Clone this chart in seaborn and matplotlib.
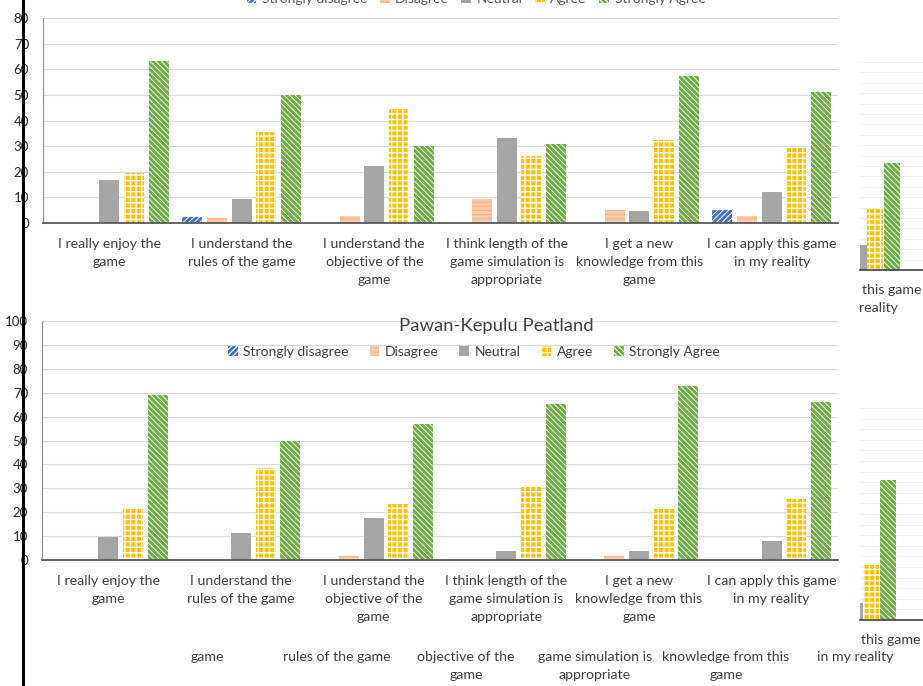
import pandas as pd
import matplotlib
matplotlib.use("Agg")
import matplotlib.pyplot as plt
import seaborn as sns
from matplotlib.lines import Line2D

statements = [
    "I really enjoy the\ngame",
    "I understand the\nrules of the game",
    "I understand the\nobjective of the\ngame",
    "I think length of the\ngame simulation is\nappropriate",
    "I get a new\nknowledge from this\ngame",
    "I can apply this game\nin my reality",
]
responses = ["Strongly disagree", "Disagree", "Neutral", "Agree", "Strongly Agree"]

# upper chart (its title is cut off in the screenshot)
top_sd = [0, 2.3, 0, 0, 0, 4.9]
top_d = [0, 1.8, 2.6, 9.4, 4.9, 2.6]
top_n = [16.9, 9.5, 22.4, 33.3, 4.7, 12.1]
top_a = [19.5, 35.5, 44.9, 26.1, 32.3, 29.3]
top_sa = [63.2, 49.8, 29.9, 30.7, 57.5, 51.0]

# Pawan-Kepulu Peatland
pk_sd = [0, 0, 0, 0, 0, 0]
pk_d = [0, 0, 1.8, 0, 1.8, 0]
pk_n = [9.6, 11.3, 17.4, 3.8, 3.8, 8.1]
pk_a = [21.2, 38.4, 23.6, 30.7, 21.2, 25.6]
pk_sa = [69.0, 49.9, 56.9, 65.1, 72.8, 66.0]

# cropped neighbour charts on the right edge
frag_cats = ["Neutral", "Agree", "Strongly Agree"]
frag_top = [9.6, 23.5, 41.2]
frag_bot = [6.4, 20.8, 52.8]

# stray label lines from a chart below
stray_labels = ["game", "rules of the game", "objective of the\ngame",
                "game simulation is\nappropriate", "knowledge from this\ngame",
                "in my reality"]

styles = {
    "Strongly disagree": dict(facecolor="#4472C4", edgecolor="white", hatch="//////"),
    "Disagree": dict(facecolor="#F8CBAD", edgecolor="#F4B183", hatch="----"),
    "Neutral": dict(facecolor="#A5A5A5", edgecolor="#A5A5A5", hatch=None),
    "Agree": dict(facecolor="#FFC000", edgecolor="white", hatch="+++"),
    "Strongly Agree": dict(facecolor="#70AD47", edgecolor="white", hatch="\\\\\\\\\\\\"),
}
hatch_lw = {"Strongly disagree": 0.7, "Disagree": 0.8, "Neutral": 0.8,
            "Agree": 1.0, "Strongly Agree": 0.6}

sns.set_theme(style="white")
plt.rcParams["font.family"] = ["Lato", "DejaVu Sans"]
plt.rcParams["hatch.linewidth"] = 0.8

W, H = 923, 686
fig = plt.figure(figsize=(W / 100, H / 100), dpi=100)


def px(l, t, r, b):
    return [l / W, 1 - b / H, (r - l) / W, (b - t) / H]


def frame(sd, d, n, a, sa):
    rows = []
    for resp, vals in zip(responses, [sd, d, n, a, sa]):
        for s, v in zip(statements, vals):
            rows.append({"statement": s, "response": resp, "value": v})
    return pd.DataFrame(rows)


def paint(bar, resp):
    bar.set(**styles[resp], linewidth=0)
    if hasattr(bar, "set_hatch_linewidth"):
        bar.set_hatch_linewidth(hatch_lw[resp])


def style_axes(ax, ymax):
    ax.set_ylim(0, ymax)
    ax.set_xlim(-0.5, len(statements) - 0.5)
    ax.set_yticks(range(0, ymax + 1, 10))
    ax.yaxis.grid(True, color="#D9D9D9", lw=0.8)
    ax.set_axisbelow(True)
    for s in ["top", "right"]:
        ax.spines[s].set_visible(False)
    ax.spines["left"].set_color("#8C8C8C")
    ax.spines["left"].set_linewidth(0.8)
    ax.spines["bottom"].set_color("#595959")
    ax.spines["bottom"].set_linewidth(1.3)
    ax.tick_params(axis="y", length=0, pad=10, labelsize=9.5, labelcolor="#262626")
    ax.tick_params(axis="x", length=0, pad=11, labelsize=10.2, labelcolor="#404040")
    for lbl in ax.get_xticklabels():
        lbl.set_linespacing(1.6)
    ax.set(xlabel=None, ylabel=None)


def draw_panel(ax, df, ymax):
    sns.barplot(data=df, x="statement", y="value", hue="response",
                order=statements, hue_order=responses, width=0.93, gap=0.19,
                errorbar=None, legend=False, ax=ax)
    for resp, cont in zip(responses, ax.containers):
        for bar in cont:
            paint(bar, resp)
    style_axes(ax, ymax)
    return [cont.patches[0] for cont in ax.containers]


# upper chart
ax1 = fig.add_axes(px(43, 18, 838, 223))
handles = draw_panel(ax1, frame(top_sd, top_d, top_n, top_a, top_sa), 80)
ax1.legend(handles, responses, loc="center", ncol=5, frameon=False,
           bbox_to_anchor=(476 / W, 1 + 1 / H), bbox_transform=fig.transFigure,
           fontsize=10, handlelength=0.7, handleheight=0.7, handletextpad=0.4,
           columnspacing=0.9, labelcolor="#595959")

# Pawan-Kepulu Peatland
ax2 = fig.add_axes(px(42, 321, 838, 560))
handles = draw_panel(ax2, frame(pk_sd, pk_d, pk_n, pk_a, pk_sa), 100)
ax2.legend(handles, responses, loc="center", ncol=5, frameon=False,
           bbox_to_anchor=(474 / W, 1 - 352 / H), bbox_transform=fig.transFigure,
           fontsize=10, handlelength=0.7, handleheight=0.7, handletextpad=0.4,
           columnspacing=1.5, labelcolor="#404040")
fig.text(496 / W, 1 - 326 / H, "Pawan-Kepulu Peatland", ha="center", va="center",
         fontsize=13.3, color="#404040")


def draw_fragment(ax, vals, left, ymax):
    sns.barplot(x=frag_cats, y=vals, color="#A5A5A5", width=0.97,
                errorbar=None, ax=ax)
    for cat, bar in zip(frag_cats, ax.patches):
        paint(bar, cat)
    ax.set_xlim(left, left + 63 / 16.5)
    ax.set_ylim(0, ymax)
    ax.set_yticks(range(0, ymax + 1, 4))
    ax.yaxis.grid(True, color="#EDEDED", lw=0.6)
    ax.set_axisbelow(True)
    ax.set_xticks([])
    ax.tick_params(axis="y", length=0, labelleft=False)
    for s in ["top", "right", "left"]:
        ax.spines[s].set_visible(False)
    ax.spines["bottom"].set_color("#404040")
    ax.spines["bottom"].set_linewidth(1.2)
    ax.set(xlabel=None, ylabel=None)


ax3 = fig.add_axes(px(860, 62, 923, 270))
draw_fragment(ax3, frag_top, 0.09, 80)
ax4 = fig.add_axes(px(860, 408, 923, 620))
draw_fragment(ax4, frag_bot, 0.33, 80)

txt = dict(fontsize=10.2, color="#404040", va="center")
fig.text(862 / W, 1 - 290 / H, "this game", ha="left", **txt)
fig.text(859 / W, 1 - 308 / H, "reality", ha="left", **txt)
fig.text(861 / W, 1 - 640 / H, "this game", ha="left", **txt)

for xc, lab in zip([207, 337, 466, 595, 726, 855], stray_labels):
    fig.text(xc / W, 1 - 651 / H, lab, ha="center", va="top", fontsize=10.2,
             color="#404040", linespacing=1.6)

# black vertical line across the screenshot
fig.add_artist(Line2D([23 / W, 23 / W], [0, 1], transform=fig.transFigure,
                      color="black", lw=2.2, zorder=20))

fig.savefig("out.png", dpi=100)
